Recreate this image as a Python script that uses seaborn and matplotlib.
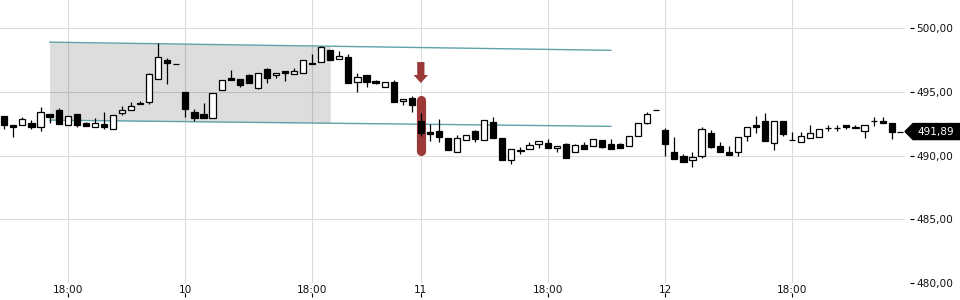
import matplotlib
matplotlib.use("Agg")
import matplotlib.pyplot as plt
import matplotlib.transforms as mtransforms
import numpy as np
import pandas as pd
import seaborn as sns

# ---------------- data ----------------
opens = [493.09, 492.40, 492.38, 492.54, 492.22, 493.24, 493.58, 492.38, 493.24, 492.54,
         492.22, 492.46, 492.06, 493.32, 493.56, 494.11, 494.18, 495.99, 497.51, 497.20,
         495.00, 493.40, 493.24, 492.98, 495.13, 496.07, 495.99, 496.31, 495.34, 496.78,
         496.31, 496.62, 496.38, 496.46, 497.25, 497.38, 498.27, 497.56, 497.75, 495.76,
         496.33, 495.86, 495.39, 495.76, 494.26, 494.50, 492.72, 491.83, 491.91, 491.38,
         490.26, 491.20, 491.91, 491.20, 492.61, 491.38, 489.63, 490.41, 490.49, 490.91,
         490.96, 490.57, 490.91, 490.26, 490.81, 490.73, 491.20, 490.91, 490.89, 490.73,
         491.51, 492.59, 493.58, 492.01, 490.26, 489.97, 489.63, 490.00, 491.75, 490.73,
         490.26, 490.26, 491.51, 492.38, 492.72, 491.02, 492.72, 491.23, 491.04, 491.36,
         491.49, 492.14, 492.14, 492.43, 492.22, 491.91, 492.69, 492.74, 492.54]
highs = [493.09, 492.40, 493.03, 492.80, 493.79, 493.24, 493.74, 493.09, 493.24, 492.64,
         492.93, 493.43, 493.16, 493.90, 494.21, 494.29, 496.52, 498.87, 497.69, 497.20,
         495.00, 493.63, 494.11, 494.92, 495.91, 496.72, 495.99, 496.41, 496.46, 496.86,
         496.46, 496.62, 496.86, 497.48, 497.98, 498.61, 498.27, 498.19, 497.98, 496.46,
         496.33, 495.91, 495.78, 495.91, 494.47, 494.66, 493.32, 492.46, 492.88, 491.38,
         491.59, 491.59, 491.99, 492.77, 493.03, 491.38, 490.49, 490.65, 491.07, 491.12,
         491.30, 490.78, 490.99, 490.91, 491.07, 491.28, 491.20, 491.30, 490.96, 491.51,
         492.54, 493.43, 493.58, 492.14, 491.44, 490.10, 490.26, 492.22, 492.01, 491.04,
         490.75, 491.44, 492.22, 493.09, 493.32, 492.72, 492.72, 491.85, 491.83, 492.38,
         492.12, 492.38, 492.38, 492.43, 492.38, 492.43, 493.06, 493.06, 492.54]
lows = [492.06, 491.49, 492.38, 492.06, 491.96, 492.59, 492.51, 492.38, 492.22, 492.30,
        492.22, 492.06, 492.06, 493.22, 493.56, 494.03, 494.03, 495.99, 495.60, 497.20,
        493.06, 492.74, 492.98, 492.98, 495.13, 495.97, 495.42, 495.73, 495.26, 495.73,
        496.12, 495.89, 496.38, 496.46, 497.17, 497.38, 497.48, 497.56, 495.68, 495.02,
        495.36, 495.60, 495.39, 494.18, 494.00, 493.40, 491.54, 491.17, 491.04, 490.41,
        490.26, 491.20, 491.04, 491.20, 491.36, 489.68, 489.37, 490.10, 490.49, 490.57,
        490.57, 490.31, 489.79, 490.26, 490.49, 490.73, 490.62, 490.55, 490.57, 490.73,
        491.51, 492.48, 493.58, 489.97, 489.76, 489.52, 489.13, 489.84, 490.62, 490.31,
        490.07, 490.00, 491.17, 491.75, 491.17, 490.47, 491.57, 491.23, 491.04, 491.36,
        491.49, 491.93, 491.93, 492.06, 492.14, 491.36, 492.33, 492.56, 491.33]
closes = [492.38, 492.27, 492.85, 492.27, 493.40, 493.06, 492.51, 493.09, 492.38, 492.30,
          492.54, 492.27, 493.16, 493.56, 493.87, 494.03, 496.41, 497.72, 497.25, 497.20,
          493.69, 492.98, 492.98, 494.92, 495.91, 495.97, 495.57, 495.73, 496.46, 496.12,
          496.46, 496.46, 496.67, 497.48, 497.17, 498.51, 497.48, 497.80, 495.68, 496.15,
          495.81, 495.68, 495.78, 494.18, 494.47, 494.00, 491.80, 491.72, 491.44, 490.41,
          491.38, 491.59, 491.33, 492.77, 491.36, 489.68, 490.49, 490.34, 490.81, 491.12,
          490.57, 490.78, 489.79, 490.83, 490.49, 491.28, 490.70, 490.55, 490.62, 491.51,
          492.54, 493.29, 493.58, 490.94, 489.76, 489.52, 489.89, 492.06, 490.70, 490.31,
          490.07, 491.44, 492.22, 492.27, 491.17, 492.72, 491.67, 491.23, 491.51, 491.80,
          492.12, 492.14, 492.14, 492.27, 492.14, 492.43, 492.69, 492.56, 491.89]

tick_positions = [7, 20, 34, 46, 60, 73, 87]
tick_labels = ["18:00", "10", "18:00", "11", "18:00", "12", "18:00"]
y_ticks = [480, 485, 490, 495, 500]

channel_x = [5, 67]
channel_upper = [498.91, 498.27]
channel_lower = [492.79, 492.30]
shade_end = 36

signal_index = 46
signal_pill = [490.40, 494.40]          # rounded marker span
signal_arrow = [497.35, 496.33, 495.70]  # top, head start, tip

# ---------------- figure ----------------
sns.set_theme(style="white")
plt.rcParams["font.family"] = ["DejaVu Sans"]

fig = plt.figure(figsize=(9.6, 3.0), dpi=100)
ax = fig.add_axes([0.0, 17 / 300, 905 / 960, 283 / 300])
ax.set_facecolor("white")

n = len(opens)
xs = np.arange(n)
df = pd.DataFrame({"x": xs, "open": opens, "high": highs, "low": lows, "close": closes})

ax.set_xlim(-0.475, 99.47)
ax.set_ylim(480, 502.22)

# grid
for yt in y_ticks:
    ax.axhline(yt, color="#dcdcdc", lw=0.8, zorder=0)
for xt in tick_positions:
    ax.axvline(xt, color="#dcdcdc", lw=0.8, zorder=0)

# shaded channel region
sx = np.linspace(channel_x[0], shade_end, 50)
up = np.interp(sx, channel_x, channel_upper)
lo = np.interp(sx, channel_x, channel_lower)
ax.fill_between(sx, lo, up, color="black", alpha=0.135, lw=0, zorder=1)

# channel lines
lines_df = pd.DataFrame({
    "x": channel_x * 2,
    "y": channel_upper + channel_lower,
    "line": ["upper"] * 2 + ["lower"] * 2,
})
sns.lineplot(data=lines_df, x="x", y="y", units="line", estimator=None,
             color="#5fa2a9", lw=1.0, ax=ax, zorder=2, legend=False)

# signal marker
red = "#9b3838"
ax.plot([signal_index, signal_index], signal_pill, color=red, lw=6.6,
        solid_capstyle="round", zorder=2.2)
hw, sw = 0.8, 0.4
ax.fill([signal_index - sw, signal_index + sw, signal_index + sw, signal_index + hw,
         signal_index, signal_index - hw, signal_index - sw],
        [signal_arrow[0], signal_arrow[0], signal_arrow[1], signal_arrow[1],
         signal_arrow[2], signal_arrow[1], signal_arrow[1]],
        color=red, lw=0, zorder=2.2)

# candles
up_mask = df["close"] >= df["open"]
ax.vlines(df["x"], df["low"], df["high"], color="black", lw=0.9, zorder=3)
body_bottom = np.minimum(df["open"], df["close"])
body_h = np.abs(df["close"] - df["open"])
ax.bar(df["x"], body_h, bottom=body_bottom, width=0.68,
       color=np.where(up_mask, "white", "black"), edgecolor="black",
       linewidth=0.9, zorder=4)

# axes styling
for s in ax.spines.values():
    s.set_visible(False)
ax.set_xticks(tick_positions)
ax.set_xticklabels(tick_labels)
ax.set_yticks(y_ticks)
ax.set_yticklabels([f"{v:.2f}".replace(".", ",") for v in y_ticks])
ax.yaxis.tick_right()
ax.tick_params(axis="x", length=0, pad=1.5, labelsize=7.6, labelcolor="#111111")
ax.tick_params(axis="y", length=0, pad=8, labelsize=7.6, labelcolor="#111111")
ax.set_xlabel("")
ax.set_ylabel("")

# small tick marks below x labels
xt_trans = ax.get_xaxis_transform()
ax.vlines(tick_positions, -10 / 283, -14 / 283, color="black", lw=0.8,
          transform=xt_trans, clip_on=False)
# small tick marks on right axis
yt_trans = ax.get_yaxis_transform()
ax.hlines(y_ticks, 1 + 5 / 905, 1 + 9 / 905, color="black", lw=0.8,
          transform=yt_trans, clip_on=False)

# last price marker
last = closes[-1]
ax.hlines(last, n - 1 + 0.6, n - 1 + 1.25, color="black", lw=0.9, zorder=4, clip_on=False)
btrans = mtransforms.blended_transform_factory(fig.transFigure, ax.transData)
half = 8 / 12.73
poly = plt.Polygon([[905 / 960, last], [913 / 960, last + half], [1.0, last + half],
                    [1.0, last - half], [913 / 960, last - half]],
                   closed=True, color="black", transform=btrans, clip_on=False, zorder=5)
ax.add_patch(poly)
ax.text(936 / 960, last, f"{last:.2f}".replace(".", ","), transform=btrans,
        color="white", fontsize=7.6, ha="center", va="center", zorder=6, clip_on=False)

fig.savefig("out.png", dpi=100, facecolor="white")
